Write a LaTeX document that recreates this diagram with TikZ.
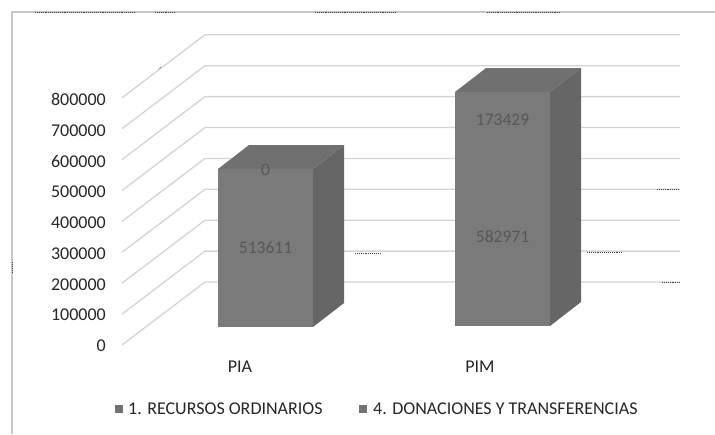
\documentclass[tikz,border=0pt]{standalone}
\usepackage{fontspec}
\setmainfont{Carlito}
\begin{document}
\begin{tikzpicture}[x=1pt,y=-1pt,
    gridln/.style={draw=black!17, line width=1.3pt},
    frameln/.style={draw=black!22, line width=1.2pt},
    speck/.style={draw=black!75, line width=0.9pt, densely dotted},
    axislbl/.style={anchor=east, inner sep=0pt, text=black!85, font=\fontsize{18}{20}\selectfont},
    catlbl/.style={inner sep=0pt, text=black!85, font=\fontsize{18}{20}\selectfont},
    barlbl/.style={inner sep=0pt, text=black!66, font=\fontsize{17.5}{19}\selectfont},
    legtxt/.style={anchor=west, inner sep=0pt, text=black!85, font=\fontsize{18}{20}\selectfont},
    legkey/.style={fill=black!55, minimum size=8pt, inner sep=0pt},
    barfront/.style={fill=black!52},
    barside/.style={fill=black!60},
    bartop/.style={fill=black!56}]
  \useasboundingbox (0,0) rectangle (715,434);

  % chart frame and scan specks
  \draw[frameln] (12,434) -- (12,12) -- (715,12);
  \draw[speck] (35,12) -- (135,12);
  \draw[speck] (155,12) -- (175,12);
  \draw[speck] (315,12) -- (395,12);
  \draw[speck] (487,12) -- (560,12);
  \draw[speck] (12,262) -- (12,272);
  \draw[black!70, line width=0.7pt] (158,70) -- (161,67);

  % walls: value gridlines, left wall then back wall
  \foreach \v in {0,...,8}{
    \draw[gridln] (122,{345-30.9*\v}) -- (205,{282-30.9*\v}) -- (680,{282-30.9*\v});
    \node[axislbl] (tick\v) at (106,{346-30.8*\v}) {\ifnum\v=0 0\else\v00000\fi};
  }

  % PIA bar
  \fill[barside] (313,169) -- (344,145) -- (344,303) -- (313,327) -- cycle;
  \fill[bartop] (218,169) -- (249,145) -- (344,145) -- (313,169) -- cycle;
  \fill[barfront] (218,169) rectangle (313,327);
  \node[barlbl] (piaRO) at (265.5,248) {513611};
  \node[barlbl] (piaDT) at (265.5,170) {0};

  % PIM bar
  \fill[barside] (550,92) -- (581,68) -- (581,302) -- (550,326) -- cycle;
  \fill[bartop] (455,92) -- (486,68) -- (581,68) -- (550,92) -- cycle;
  \fill[barfront] (455,92) rectangle (550,326);
  \node[barlbl] (pimRO) at (502.5,237) {582971};
  \node[barlbl] (pimDT) at (502.5,120) {173429};

  % leftover leader specks
  \draw[speck] (355,253) -- (380,253);
  \draw[speck] (587,252) -- (622,252);
  \draw[speck] (657,189) -- (679,189);
  \draw[speck] (662,282) -- (680,282);

  % categories
  \node[catlbl] (pia) at (240,367) {PIA};
  \node[catlbl] (pim) at (480,367) {PIM};

  % legend
  \node[legkey] (keyRO) at (119,409) {};
  \node[legtxt] (legRO) at (128,409) {1. RECURSOS ORDINARIOS};
  \node[legkey] (keyDT) at (363,409) {};
  \node[legtxt] (legDT) at (373,409) {4. DONACIONES Y TRANSFERENCIAS};
\end{tikzpicture}
\end{document}
